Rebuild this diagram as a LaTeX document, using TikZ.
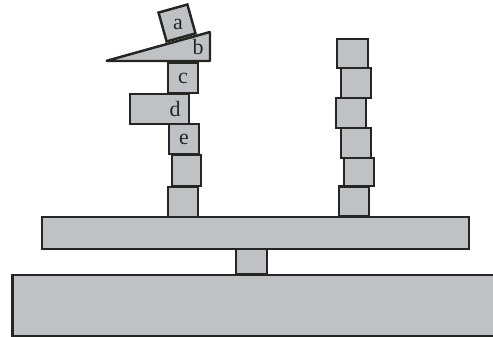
\documentclass[tikz,border=0pt]{standalone}
\usepackage{fontspec}
\setmainfont{Liberation Serif}
\usepackage{tikz}

\definecolor{blockgray}{RGB}{192,193,196}
\definecolor{edgecol}{RGB}{35,38,35}

\tikzset{
  block/.style={draw=edgecol, fill=blockgray, line width=1.4pt, inner sep=0pt},
  tag/.style={font=\fontsize{12.5}{14}\selectfont, text=edgecol, inner sep=0pt}
}

\begin{document}
\begin{tikzpicture}[x=0.02cm, y=-0.02cm]
        \useasboundingbox (0,0) rectangle (493,337);
        \clip (0,0) rectangle (493,337);

        % Ground slab and pivot
        \node[block, minimum width=9.7cm, minimum height=1.22cm] (ground) at (255,305.5) {};
        \node[block, minimum width=0.62cm, minimum height=0.5cm] (pivot) at (251.5,261.5) {};
        % Beam
        \node[block, minimum width=8.54cm, minimum height=0.64cm] (beam) at (255.5,233) {};

        % Left stack
        \node[block, minimum width=0.6cm, minimum height=0.6cm] (l1) at (183,202) {};
        \node[block, minimum width=0.58cm, minimum height=0.62cm] (l2) at (186.5,170.5) {};
        \node[block, minimum width=0.6cm, minimum height=0.6cm] (e) at (184,139) {};
        \node[block, minimum width=1.18cm, minimum height=0.6cm] (d) at (159.5,109) {};
        \node[block, minimum width=0.6cm, minimum height=0.6cm] (c) at (183,78) {};
        \draw[block, line join=bevel] (106,61) -- (210,32) -- (210,61) -- cycle;
        \node[block, minimum width=0.6cm, minimum height=0.6cm, rotate=15.6] (a) at (177,23) {};

        % Labels
        \node[tag] (la) at (178,24) {a};
        \node[tag] (lb) at (198,47) {b};
        \node[tag] at (c.center) {c};
        \node[tag] (ld) at (175,109) {d};
        \node[tag] at (e.center) {e};

        % Right stack
        \node[block, minimum width=0.62cm, minimum height=0.58cm] (r1) at (352.5,53.5) {};
        \node[block, minimum width=0.6cm, minimum height=0.6cm] (r2) at (356,83) {};
        \node[block, minimum width=0.6cm, minimum height=0.6cm] (r3) at (351,113) {};
        \node[block, minimum width=0.6cm, minimum height=0.6cm] (r4) at (356,143) {};
        \node[block, minimum width=0.6cm, minimum height=0.56cm] (r5) at (359,172) {};
        \node[block, minimum width=0.6cm, minimum height=0.6cm] (r6) at (354,201.5) {};
    \end{tikzpicture}
\end{document}
